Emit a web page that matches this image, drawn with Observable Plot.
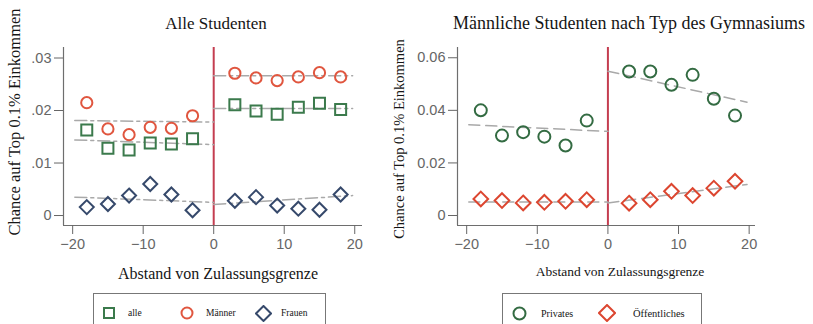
<!DOCTYPE html>
<html><head><meta charset="utf-8">
<script src="https://cdn.jsdelivr.net/npm/d3@7"></script>
<script src="https://cdn.jsdelivr.net/npm/@observablehq/plot@0.6"></script>
<style>
body{margin:0;background:#fff}
#wrap{position:relative;width:813px;height:324px;overflow:hidden;font-family:"Liberation Serif","Times New Roman",serif;color:#151515;background:#fff}
.abs{position:absolute;white-space:nowrap;line-height:1}
.c{transform:translate(-50%,-50%)}
.rot{transform:translate(-50%,-50%) rotate(-90deg)}
.plot{position:absolute;top:0}
.legend{position:absolute;border:1px solid #777;box-sizing:border-box;background:#fff}
.legend .item{position:absolute;top:0;display:flex;align-items:center;height:100%}
</style></head><body><div id="wrap"></div>
<script>
// ---- data ----
const xs = [-18, -15, -12, -9, -6, -3, 3, 6, 9, 12, 15, 18];
const alle = [0.0163, 0.0128, 0.0125, 0.0138, 0.0136, 0.0146, 0.0211, 0.0199, 0.0193, 0.0206, 0.0214, 0.0202];
const maenner = [0.0215, 0.0165, 0.0154, 0.0168, 0.0166, 0.0190, 0.0271, 0.0262, 0.0257, 0.0264, 0.0272, 0.0264];
const frauen = [0.0016, 0.0022, 0.0038, 0.0060, 0.0040, 0.0010, 0.0028, 0.0035, 0.0019, 0.0013, 0.0011, 0.0040];
const privates = [0.0400, 0.0304, 0.0317, 0.0300, 0.0266, 0.0361, 0.0548, 0.0548, 0.0497, 0.0535, 0.0444, 0.0380];
const oeffentliches = [0.0063, 0.0057, 0.0048, 0.0050, 0.0054, 0.0060, 0.0047, 0.0060, 0.0092, 0.0076, 0.0104, 0.0130];
// linear fit endpoints: [left start, left end, right start, right end]
const fitX = [-19.7, 0, 0, 19.7];
const fitAlle = [0.0144, 0.0135, 0.0204, 0.0204];
const fitMaenner = [0.0181, 0.0178, 0.0266, 0.0266];
const fitFrauen = [0.0035, 0.0025, 0.0021, 0.0038];
const fitPrivates = [0.0345, 0.0320, 0.0549, 0.0431];
const fitOeff = [0.0051, 0.0051, 0.0048, 0.0118];
const leftTicksY = [0, 0.01, 0.02, 0.03];
const rightTicksY = [0, 0.02, 0.04, 0.06];
const ticksX = [-20, -10, 0, 10, 20];
const leftTitle = "Alle Studenten";
const rightTitle = "Männliche Studenten nach Typ des Gymnasiums";
const yLabel = "Chance auf Top 0.1% Einkommen";
const xLabel = "Abstand von Zulassungsgrenze";

const C = {green: "#3b7a4c", red: "#e0563f", navy: "#36496b", green2: "#336b42", red2: "#dc4630", cut: "#c43d50", fit: "#a9a9a9", axis: "#6e6e6e"};

const pts = (vals) => xs.map((x, i) => ({x, y: vals[i]}));
const fit = (vals) => fitX.map((x, i) => ({x, y: vals[i], side: i < 2 ? "L" : "R"}));

function panel({width, marginLeft, marginRight, xDomain, yDomain, yTicks, yFmt, series, dash}) {
  const marks = [
    Plot.ruleX([xDomain[0]], {stroke: C.axis, strokeWidth: 1.2}),
    Plot.ruleY([yDomain[0]], {stroke: C.axis, strokeWidth: 1.2}),
    Plot.axisY({ticks: yTicks, tickFormat: yFmt, tickSize: 9, tickPadding: 3, fontSize: 14.5, label: null}),
    Plot.axisX({ticks: ticksX, tickSize: 9, tickPadding: 4, fontSize: 14.5, label: null}),
    Plot.ruleX([0], {stroke: C.cut, strokeWidth: 2})
  ];
  for (const s of series) {
    marks.push(Plot.line(fit(s.fit), {x: "x", y: "y", z: "side", stroke: C.fit, strokeWidth: 1.5, strokeDasharray: dash}));
  }
  for (const s of series) {
    marks.push(Plot.dot(pts(s.vals), {x: "x", y: "y", symbol: s.symbol, r: s.r, stroke: s.color, strokeWidth: 2, fill: "none"}));
  }
  return Plot.plot({
    width, height: 324, marginLeft, marginRight, marginTop: 47, marginBottom: 99,
    x: {domain: xDomain},
    y: {domain: yDomain},
    style: {fontFamily: '"Liberation Sans", Arial, sans-serif', color: "#666", background: "transparent", overflow: "visible"},
    marks
  });
}

const wrap = document.getElementById("wrap");

const left = panel({
  width: 400, marginLeft: 63, marginRight: 38,
  xDomain: [-21.3, 21.1], yDomain: [-0.0019, 0.032],
  yTicks: leftTicksY, yFmt: d => d === 0 ? "0" : d3.format(".2f")(d).replace(/^0/, ""),
  dash: "12,4,3,4",
  series: [
    {vals: alle, fit: fitAlle, symbol: "square", r: 6.2, color: C.green},
    {vals: maenner, fit: fitMaenner, symbol: "circle", r: 5.6, color: C.red},
    {vals: frauen, fit: fitFrauen, symbol: "diamond2", r: 6.3, color: C.navy}
  ]
});
left.classList.add("plot"); left.style.left = "0px";
wrap.appendChild(left);

const right = panel({
  width: 413, marginLeft: 57, marginRight: 58,
  xDomain: [-21.3, 20.9], yDomain: [-0.0038, 0.0639],
  yTicks: rightTicksY, yFmt: d => d === 0 ? "0" : d3.format(".2f")(d),
  dash: "11,6",
  series: [
    {vals: privates, fit: fitPrivates, symbol: "circle", r: 6, color: C.green2},
    {vals: oeffentliches, fit: fitOeff, symbol: "diamond2", r: 6.6, color: C.red2}
  ]
});
right.classList.add("plot"); right.style.left = "400px";
wrap.appendChild(right);

function text(str, x, y, size, cls = "c") {
  const d = document.createElement("div");
  d.className = "abs " + cls;
  d.textContent = str;
  d.style.left = x + "px"; d.style.top = y + "px"; d.style.fontSize = size + "px";
  wrap.appendChild(d);
  return d;
}
text(leftTitle, 216, 23, 17);
text(rightTitle, 629, 23, 18);
text(yLabel, 15, 122, 16.5, "rot");
text(yLabel, 399, 139, 14.5, "rot");
text(xLabel, 218, 274, 16);
text(xLabel, 620, 272, 13.5);

function sym(kind, color, size) {
  const s = size, h = s / 2;
  let shape;
  if (kind === "square") shape = `<rect x="2" y="2" width="${s - 4}" height="${s - 4}" fill="none" stroke="${color}" stroke-width="2"/>`;
  else if (kind === "circle") shape = `<circle cx="${h}" cy="${h}" r="${h - 1.5}" fill="none" stroke="${color}" stroke-width="2"/>`;
  else shape = `<path d="M${h},1L${s - 1},${h}L${h},${s - 1}L1,${h}Z" fill="none" stroke="${color}" stroke-width="2"/>`;
  return `<svg width="${s}" height="${s}" style="display:block">${shape}</svg>`;
}
function legend(x, y, w, h, items) {
  const box = document.createElement("div");
  box.className = "legend";
  Object.assign(box.style, {left: x + "px", top: y + "px", width: w + "px", height: h + "px"});
  for (const it of items) {
    const s = document.createElement("div");
    s.className = "item";
    s.style.left = (it.sx - x - it.size / 2) + "px";
    s.innerHTML = sym(it.kind, it.color, it.size);
    s.style.height = "38px";
    box.appendChild(s);
    const t = document.createElement("div");
    t.className = "item";
    t.style.left = (it.tx - x) + "px";
    t.style.height = "38px";
    t.style.fontSize = it.fs + "px";
    t.textContent = it.label;
    box.appendChild(t);
  }
  wrap.appendChild(box);
}
legend(93, 293, 233, 45, [
  {kind: "square", color: C.green, size: 14, sx: 108, tx: 127, label: "alle", fs: 9.5},
  {kind: "circle", color: C.red, size: 14, sx: 186, tx: 205, label: "Männer", fs: 9.5},
  {kind: "diamond", color: C.navy, size: 17, sx: 262, tx: 280, label: "Frauen", fs: 9.5}
]);
legend(502, 293, 200, 45, [
  {kind: "circle", color: C.green2, size: 15, sx: 518, tx: 540, label: "Privates", fs: 10},
  {kind: "diamond", color: C.red2, size: 18, sx: 606, tx: 632, label: "Öffentliches", fs: 10.5}
]);
</script>
</body></html>
